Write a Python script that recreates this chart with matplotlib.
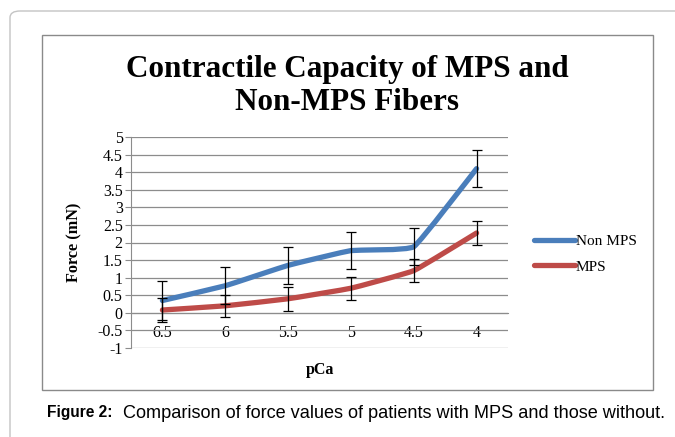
import numpy as np
import matplotlib.pyplot as plt
from matplotlib.path import Path
from matplotlib.patches import PathPatch, FancyBboxPatch, Rectangle
from matplotlib.lines import Line2D

plt.rcParams["font.family"] = ["Liberation Serif", "DejaVu Serif"]

# data
pca = ["6.5", "6", "5.5", "5", "4.5", "4"]
non_mps = [0.35, 0.77, 1.35, 1.77, 1.88, 4.1]
non_mps_err = [0.55, 0.53, 0.52, 0.52, 0.53, 0.53]
mps = [0.08, 0.2, 0.4, 0.7, 1.2, 2.27]
mps_err = [0.33, 0.32, 0.34, 0.33, 0.33, 0.33]

blue = "#4A7EBB"
red = "#BE4B48"
grid_c = "#8c8c8c"

fig = plt.figure(figsize=(6.75, 4.37), dpi=100)
W, H = 675, 437


def fx(px):
    return px / W


def fy(py):
    return 1 - py / H


# page frame and chart box
fig.patches.append(FancyBboxPatch((fx(10), fy(460)), fx(700), 449 / H,
                                  boxstyle="round,pad=0,rounding_size=0.015",
                                  transform=fig.transFigure, fc="none",
                                  ec="#c4c4c4", lw=1.0))
fig.patches.append(Rectangle((fx(42), fy(390)), fx(611), 355 / H,
                             transform=fig.transFigure, fc="none",
                             ec="#8a8a8a", lw=1.0))

ax = fig.add_axes([fx(131), fy(348), fx(377), 211 / H])
x = np.arange(len(pca))

# pixel size of one unit on each axis, so smoothing behaves like on screen
sx, sy = 377 / 6, 211 / 6


def smooth_path(xs, ys, t=0.05):
    # lightly smoothed line as cubic bezier segments through the data
    pts = np.column_stack([np.asarray(xs) * sx, np.asarray(ys) * sy]).astype(float)
    verts = [pts[0]]
    codes = [Path.MOVETO]
    n = len(pts)
    for i in range(n - 1):
        p0 = pts[i - 1] if i > 0 else pts[i]
        p1 = pts[i]
        p2 = pts[i + 1]
        p3 = pts[i + 2] if i + 2 < n else pts[i + 1]
        c1 = p1 + (p2 - p0) * t
        c2 = p2 - (p3 - p1) * t
        verts += [c1, c2, p2]
        codes += [Path.CURVE4] * 3
    verts = np.array(verts) / [sx, sy]
    return Path(verts, codes)


for vals, col in [(non_mps, blue), (mps, red)]:
    ax.add_patch(PathPatch(smooth_path(x, vals), fc="none", ec=col, lw=3.8,
                           capstyle="round", joinstyle="round", zorder=3))

ax.errorbar(x, non_mps, yerr=non_mps_err, fmt="none", ecolor="black",
            elinewidth=0.9, capsize=3.5, capthick=0.9, zorder=4)
ax.errorbar(x, mps, yerr=mps_err, fmt="none", ecolor="black",
            elinewidth=0.9, capsize=3.5, capthick=0.9, zorder=4)

ax.set_xlim(-0.5, 5.5)
ax.set_ylim(-1, 5)
yt = np.arange(-1, 5.01, 0.5)
ax.set_yticks(yt)
ax.set_yticklabels([f"{v:g}" for v in yt])
ax.set_xticks(x)
ax.set_xticklabels(pca)
ax.grid(axis="y", color=grid_c, lw=0.9)
ax.set_axisbelow(True)
for s in ["top", "right"]:
    ax.spines[s].set_visible(False)
ax.spines["bottom"].set_position(("data", 0))
ax.spines["bottom"].set_color(grid_c)
ax.spines["left"].set_color(grid_c)
ax.tick_params(axis="x", length=0, pad=8.5, labelsize=11.5)
ax.tick_params(axis="y", length=4, color=grid_c, pad=2, labelsize=11.5)

ax.set_xlabel("pCa", fontweight="bold", fontsize=11.5)
ax.xaxis.set_label_coords(0.5, -14 / 211)
ax.set_ylabel("Force (mN)", fontweight="bold", fontsize=11.7)
ax.yaxis.set_label_coords(-(131 - 82) / 377, 0.5)

fig.text(fx(347), fy(86), "Contractile Capacity of MPS and\nNon-MPS Fibers",
         ha="center", va="center", fontweight="bold",
         fontsize=22.4, linespacing=1.22)

handles = [Line2D([], [], color=blue, lw=3.8, solid_capstyle="round"),
           Line2D([], [], color=red, lw=3.8, solid_capstyle="round")]
fig.legend(handles, ["Non MPS", "MPS"], loc="center left",
           bbox_to_anchor=(fx(526), fy(254)), frameon=False,
           prop={"size": 11}, handlelength=2.7,
           handletextpad=0.05, labelspacing=0.8, borderpad=0)

t1 = fig.text(fx(47), fy(413), "Figure 2:", fontfamily="Liberation Sans",
              fontweight="bold", fontsize=11.2, va="center")
fig.canvas.draw()
bb = t1.get_window_extent()
fig.text(bb.x1 / W + fx(11), fy(413),
         "Comparison of force values of patients with MPS and those without.",
         fontfamily="Liberation Sans", fontsize=13.1, va="center")

fig.savefig("out.png", dpi=100)
